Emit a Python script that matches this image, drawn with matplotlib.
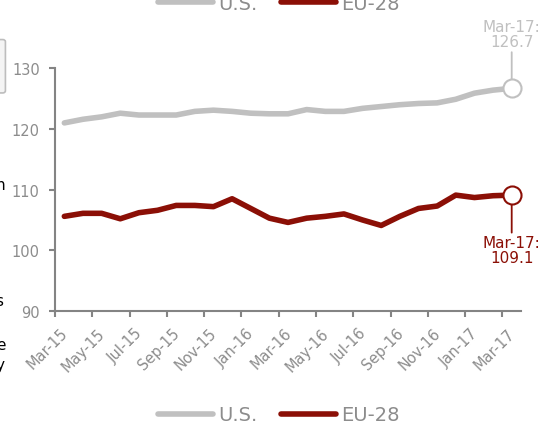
import numpy as np
import matplotlib as mpl
mpl.rcParams['font.family'] = ['DejaVu Sans']
import matplotlib.pyplot as plt
import matplotlib.transforms as mtrans
from matplotlib.lines import Line2D
from matplotlib.patches import FancyBboxPatch

# monthly index values, Mar-15 .. Mar-17
months = ['Mar-15', 'Apr-15', 'May-15', 'Jun-15', 'Jul-15', 'Aug-15', 'Sep-15',
          'Oct-15', 'Nov-15', 'Dec-15', 'Jan-16', 'Feb-16', 'Mar-16', 'Apr-16',
          'May-16', 'Jun-16', 'Jul-16', 'Aug-16', 'Sep-16', 'Oct-16', 'Nov-16',
          'Dec-16', 'Jan-17', 'Feb-17', 'Mar-17']
us = [121.0, 121.6, 122.0, 122.6, 122.3, 122.3, 122.3, 122.9, 123.1, 122.9,
      122.6, 122.5, 122.5, 123.2, 122.9, 122.9, 123.4, 123.7, 124.0, 124.2,
      124.3, 124.9, 125.9, 126.4, 126.7]
eu = [105.6, 106.1, 106.1, 105.2, 106.2, 106.6, 107.4, 107.4, 107.2, 108.5,
      106.9, 105.3, 104.6, 105.3, 105.6, 106.0, 105.0, 104.1, 105.6, 106.9,
      107.3, 109.1, 108.7, 109.0, 109.1]
yticks = [90, 100, 110, 120, 130]

US_C = '#c0c0c0'
EU_C = '#8b0f06'
AX_C = '#848484'
TXT_C = '#8c8c8c'

fig = plt.figure(figsize=(5.42, 4.27), dpi=100)
ax = fig.add_axes([0.1015, 0.2693, 0.8598, 0.5684])

x = np.arange(len(months)) + 0.5
ax.plot(x, us, color=US_C, lw=4, solid_capstyle='round', solid_joinstyle='round', zorder=3)
ax.plot(x, eu, color=EU_C, lw=4, solid_capstyle='round', solid_joinstyle='round', zorder=3)

# end markers
ax.plot(x[-1], us[-1], 'o', ms=13, mfc='white', mec=US_C, mew=1.5, zorder=5, clip_on=False)
ax.plot(x[-1], eu[-1], 'o', ms=13, mfc='white', mec=EU_C, mew=1.5, zorder=5, clip_on=False)

# callouts
ax.annotate('Mar-17:\n' + f'{us[-1]:.1f}', xy=(x[-1], us[-1]), xytext=(0, 28),
            textcoords='offset points', ha='center', va='bottom', color=US_C,
            fontsize=11, linespacing=1.0, annotation_clip=False,
            arrowprops=dict(arrowstyle='-', color=US_C, lw=1.3, shrinkA=0, shrinkB=6.5))
ax.annotate('Mar-17:\n' + f'{eu[-1]:.1f}', xy=(x[-1], eu[-1]), xytext=(0, -29),
            textcoords='offset points', ha='center', va='top', color=EU_C,
            fontsize=11, linespacing=1.0, annotation_clip=False,
            arrowprops=dict(arrowstyle='-', color=EU_C, lw=1.3, shrinkA=0, shrinkB=6.5))

ax.set_xlim(0, len(months))
ax.set_ylim(90, 130)
ax.set_yticks(yticks)
xt = np.arange(0, len(months), 2)
ax.set_xticks(xt)
ax.set_xticklabels([])
# rotated month labels, placed by hand so they sit a little right of the ticks
lab_tr = ax.get_xaxis_transform() + mtrans.ScaledTranslation(7.5 / 72, -14 / 72, fig.dpi_scale_trans)
for t, m in zip(xt, months[::2]):
    ax.text(t, 0, m, transform=lab_tr, rotation=45, rotation_mode='anchor',
            ha='right', va='center', color=TXT_C, fontsize=10.5)

for s in ['top', 'right']:
    ax.spines[s].set_visible(False)
for s in ['left', 'bottom']:
    ax.spines[s].set_color(AX_C)
    ax.spines[s].set_linewidth(1.5)
ax.tick_params(axis='both', colors=AX_C, width=1.5, length=4, labelcolor=TXT_C, labelsize=10.5)
ax.tick_params(axis='y', pad=7)

handles = [Line2D([], [], color=US_C, lw=4, solid_capstyle='round'),
           Line2D([], [], color=EU_C, lw=4, solid_capstyle='round')]
leg_kw = dict(ncol=2, frameon=False, handlelength=2.8, handletextpad=0.3,
              columnspacing=1.2, prop={'size': 14})
leg = fig.legend(handles, ['U.S.', 'EU-28'], loc='center', bbox_to_anchor=(0.515, 0.026), **leg_kw)
for t in leg.get_texts():
    t.set_color(TXT_C)
# the same legend, cut off by the top edge
leg2 = fig.legend(handles, ['U.S.', 'EU-28'], loc='center', bbox_to_anchor=(0.515, 0.99), **leg_kw)
for t in leg2.get_texts():
    t.set_color(TXT_C)

# edge of a neighbouring box on the left
fig.patches.append(FancyBboxPatch((-0.02, 0.78), 0.03, 0.125, transform=fig.transFigure,
                                  boxstyle='round,pad=0,rounding_size=0.005',
                                  fc='#f4f4f4', ec='#bdbdbd', lw=1.2))
for ch, yy in [('n', 0.565), ('s', 0.295), ('e', 0.19), ('y', 0.145)]:
    fig.text(-0.008, yy, ch, color='black', fontsize=11, ha='left', va='center')

fig.savefig('out.png', dpi=100)
